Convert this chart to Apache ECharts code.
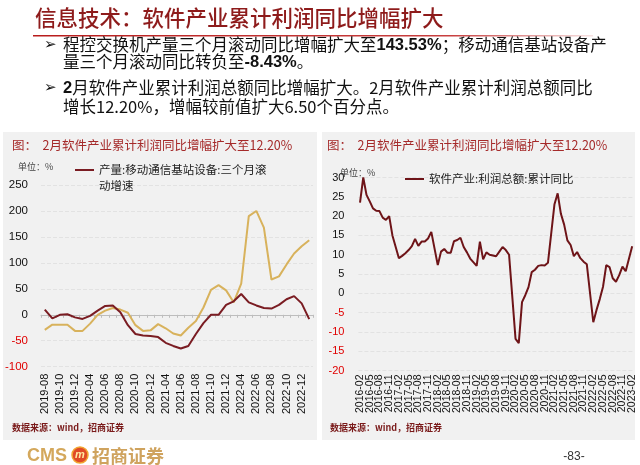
<!DOCTYPE html>
<html><head><meta charset="utf-8">
<script src="https://cdn.jsdelivr.net/npm/echarts@6/dist/echarts.min.js"></script>
<style>html,body{margin:0;padding:0;background:#fff}#c{width:640px;height:465px}</style>
</head><body><div id="c"></div>
<script>
// ---- Left chart data ----
const leftCategories = ['2019-08','2019-09','2019-10','2019-11','2019-12',
  '2020-03','2020-04','2020-05','2020-06','2020-07','2020-08','2020-09','2020-10','2020-11','2020-12',
  '2021-03','2021-04','2021-05','2021-06','2021-07','2021-08','2021-09','2021-10','2021-11','2021-12',
  '2022-03','2022-04','2022-05','2022-06','2022-07','2022-08','2022-09','2022-10','2022-11','2022-12',
  '2023-02'];
const baseStationName = '产量:移动通信基站设备:三个月滚动增速';
const baseStationGrowth = [10,-7,0,1,-5,-8,-2,8,17,18,5,-20,-37,-40,-41,-43,-54,-60,-65,-60,-37,-16,0,0,19,26,40,24,18,13,12,19,30,36,22,-8.43];
const switchName = '产量:程控交换机:三个月滚动增速';
const switchGrowth = [-29,-19,-19,-19,-31,-31,-17,0,8,13,10,4,-20,-31,-30,-18,-26,-36,-40,-25,-12,14,48,57,47,24,60,190,200,168,68,74,97,118,132,143.53];
const leftTicks = {min:-100, max:250, interval:50};

// ---- Right chart data ----
const rightCategories = [];
for (let y = 2016; y <= 2023; y++) {
  for (let m = 1; m <= 12; m++) {
    if (y === 2016 && m < 2) continue;
    if (y === 2023 && m > 2) continue;
    rightCategories.push(y + '-' + String(m).padStart(2,'0'));
  }
}
const profitName = '软件产业:利润总额:累计同比';
const profit2016 = [23.5,30,25.5,23.8,22,21.4,21.3,19.6,19,20,15];
const profit2017 = [null,9.1,9.7,10.4,11.2,12.2,14.1,12.3,13.4,13.4,14.2,15.9];
const profit2018 = [null,7.3,10.8,11.5,10.5,10.5,13.5,13.8,14.4,12.0,10.6,9.0];
const profit2019 = [null,7.1,13.4,8.8,10.6,10.0,9.8,9.6,10.8,12.0,11.2,10.0];
const profit2020 = [null,-11.8,-12.9,-2.3,-0.5,1.6,5.5,6.1,7.1,7.3,7.2,7.9];
const profit2021 = [null,23,25.9,20.6,17.8,13.7,12.5,9.6,10.7,9.1,8.2,7.5];
const profit2022 = [null,-7.5,-4.3,-1.5,1.7,7.3,6.8,3.9,3.0,4.7,6.9,5.7];
const profit2023 = [null,12.2];
const profitYoY = [].concat(profit2016,profit2017,profit2018,profit2019,profit2020,profit2021,profit2022,profit2023);
const rightTicks = {min:-20, max:30, interval:5};
const rightLabelStep = 3;

const numFont = '"Liberation Sans", Arial, sans-serif';
const cjk = '"Noto Sans CJK SC", sans-serif';
const negColor = (v) => Number(v) < 0 ? '#e00000' : '#111';

const chart = echarts.init(document.getElementById('c'), null, {renderer:'canvas'});
chart.setOption({
  animation:false,
  backgroundColor:'#fff',
  graphic:[
    {type:'rect', z:-10, shape:{x:3,y:132,width:314,height:308}, style:{fill:'#f1f1f1'}},
    {type:'rect', z:-10, shape:{x:322,y:132,width:313,height:308}, style:{fill:'#f1f1f1'}},
    {type:'text', x:35, y:18, style:{text:'信息技术：软件产业累计利润同比增幅扩大', font:'500 21.5px '+cjk, fill:'#8e1b1b', align:'left', verticalAlign:'middle'}},
    {type:'rect', shape:{x:33,y:35,width:560,height:1.5}, style:{fill:{type:'linear',x:0,y:0,x2:1,y2:0,colorStops:[{offset:0,color:'#b81c1c'},{offset:0.75,color:'#c84040'},{offset:1,color:'rgba(200,64,64,0.15)'}]}}},
    {type:'text', x:44, y:45, style:{text:'➢', font:'15px "DejaVu Sans"', fill:'#111', align:'left', verticalAlign:'middle'}},
    {type:'text', x:44, y:88, style:{text:'➢', font:'15px "DejaVu Sans"', fill:'#111', align:'left', verticalAlign:'middle'}},
    {type:'text', x:63, y:45, style:{text:'程控交换机产量三个月滚动同比增幅扩大至{b|143.53%}；移动通信基站设备产', font:'16.5px '+cjk, fill:'#111', align:'left', verticalAlign:'middle', rich:{b:{font:'bold 16.5px '+numFont, fill:'#111'}}}},
    {type:'text', x:63, y:62, style:{text:'量三个月滚动同比转负至{b|-8.43%}。', font:'16.5px '+cjk, fill:'#111', align:'left', verticalAlign:'middle', rich:{b:{font:'bold 16.5px '+numFont, fill:'#111'}}}},
    {type:'text', x:63, y:88, style:{text:'{b|2}月软件产业累计利润总额同比增幅扩大。2月软件产业累计利润总额同比', font:'16.5px '+cjk, fill:'#111', align:'left', verticalAlign:'middle', rich:{b:{font:'bold 16.5px '+numFont, fill:'#111'}}}},
    {type:'text', x:63, y:107, style:{text:'增长12.20%，增幅较前值扩大6.50个百分点。', font:'16.5px '+cjk, fill:'#111', align:'left', verticalAlign:'middle'}},
    {type:'text', x:12, y:145, style:{text:'图：  2月软件产业累计利润同比增幅扩大至12.20%', font:'12.5px '+cjk, fill:'#a52a2a', align:'left', verticalAlign:'middle'}},
    {type:'text', x:327, y:145, style:{text:'图：  2月软件产业累计利润同比增幅扩大至12.20%', font:'12.5px '+cjk, fill:'#a52a2a', align:'left', verticalAlign:'middle'}},
    {type:'text', x:18, y:167, style:{text:'单位：%', font:'9px '+cjk, fill:'#444', align:'left', verticalAlign:'middle'}},
    {type:'text', x:340, y:173, style:{text:'单位：%', font:'9px '+cjk, fill:'#444', align:'left', verticalAlign:'middle'}},
    {type:'text', x:12, y:428, style:{text:'数据来源：wind，招商证券', font:'bold 9px '+cjk, fill:'#7a1a1a', align:'left', verticalAlign:'middle'}},
    {type:'text', x:330, y:428, style:{text:'数据来源：wind，招商证券', font:'bold 9px '+cjk, fill:'#7a1a1a', align:'left', verticalAlign:'middle'}},
    {type:'text', x:27, y:456, style:{text:'CMS', font:'bold 18px '+numFont, fill:'#d4a85c', align:'left', verticalAlign:'middle'}},
    {type:'circle', shape:{cx:80,cy:455,r:8}, style:{fill:'#e04a26', stroke:'#f2a531', lineWidth:1.5}},
    {type:'text', x:80, y:455, style:{text:'m', font:'italic bold 11px '+numFont, fill:'#ffe9a0', align:'center', verticalAlign:'middle'}},
    {type:'text', x:92, y:456, style:{text:'招商证券', font:'bold 18px '+cjk, fill:'#cfa35e', align:'left', verticalAlign:'middle'}},
    {type:'text', x:574, y:457, style:{text:'-83-', font:'12px '+numFont, fill:'#333', align:'center', verticalAlign:'middle'}}
  ],
  legend:[
    {data:[baseStationName], left:75, top:146, padding:0, icon:'rect', itemWidth:19, itemHeight:2, itemGap:0,
     formatter:()=> '\n产量:移动通信基站设备:三个月滚\n动增速',
     textStyle:{fontFamily:cjk, fontSize:11.5, lineHeight:16, color:'#222'}},
    {data:[profitName], left:405, top:171, padding:0, icon:'rect', itemWidth:19, itemHeight:2,
     textStyle:{fontFamily:cjk, fontSize:11.5, lineHeight:16, color:'#222'}}
  ],
  grid:[
    {left:41, top:185, width:272, height:181.7},
    {left:358.4, top:177.5, width:275.4, height:193}
  ],
  xAxis:[
    {gridIndex:0, type:'category', data:leftCategories, boundaryGap:true, position:'bottom',
     axisLine:{show:false, onZero:false}, axisTick:{show:false},
     axisLabel:{interval:1, rotate:90, fontSize:11, color:'#111', margin:7, fontFamily:numFont, showMinLabel:true}},
    {gridIndex:0, type:'category', data:leftCategories, boundaryGap:true, position:'bottom',
     axisLine:{show:true, onZero:true, lineStyle:{color:'#bdbdbd', width:1}},
     axisTick:{show:true, interval:0, length:3, lineStyle:{color:'#bdbdbd'}},
     axisLabel:{show:false}},
    {gridIndex:1, type:'category', data:rightCategories, boundaryGap:true, position:'bottom',
     axisLine:{show:false, onZero:false}, axisTick:{show:false},
     axisLabel:{interval:0, rotate:90, fontSize:10.5, color:'#111', margin:4, fontFamily:numFont, hideOverlap:false,
       formatter:(v, i) => (i % rightLabelStep === 0 ? v : '')}}
  ],
  yAxis:[
    {gridIndex:0, type:'value', min:leftTicks.min, max:leftTicks.max, interval:leftTicks.interval,
     axisLine:{show:false}, axisTick:{show:false},
     splitLine:{lineStyle:{color:'#e2e2e2', type:'dashed', width:1}},
     axisLabel:{fontSize:11.5, margin:13, fontFamily:numFont, color:negColor}},
    {gridIndex:1, type:'value', min:rightTicks.min, max:rightTicks.max, interval:rightTicks.interval,
     axisLine:{show:false}, axisTick:{show:false},
     splitLine:{lineStyle:{color:'#e2e2e2', type:'dashed', width:1}},
     axisLabel:{fontSize:11, margin:14, fontFamily:numFont, color:negColor}}
  ],
  series:[
    {name:switchName, type:'line', xAxisIndex:0, yAxisIndex:0, data:switchGrowth, symbol:'none',
     lineStyle:{color:'#d8b25c', width:2}, itemStyle:{color:'#d8b25c'}, z:3},
    {name:baseStationName, type:'line', xAxisIndex:0, yAxisIndex:0, data:baseStationGrowth, symbol:'none',
     lineStyle:{color:'#7a1c22', width:2}, itemStyle:{color:'#7a1c22'}, z:4},
    {name:profitName, type:'line', xAxisIndex:2, yAxisIndex:1, data:profitYoY, symbol:'none', connectNulls:true,
     lineStyle:{color:'#6e1418', width:2}, itemStyle:{color:'#6e1418'}}
  ]
});
</script></body></html>
